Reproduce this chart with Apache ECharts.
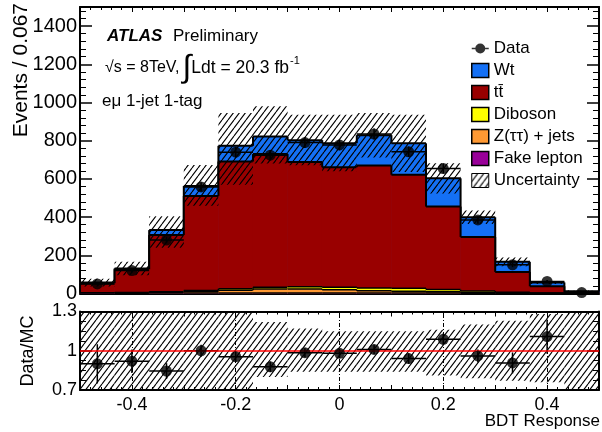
<!DOCTYPE html>
<html>
<head>
<meta charset="utf-8">
<script src="https://cdn.jsdelivr.net/npm/echarts@6/dist/echarts.min.js"></script>
<style>
  html, body { margin: 0; padding: 0; background: #fff; }
  #chart { width: 602px; height: 432px; }
</style>
</head>
<body>
<div id="chart"></div>
<script>
// bin edges of BDT response (15 bins of 0.067)
const edges = [-0.5, -0.4333, -0.3667, -0.3, -0.2333, -0.1667, -0.1, -0.0333, 0.0333, 0.1, 0.1667, 0.2333, 0.3, 0.3667, 0.4333, 0.5]
// stacked MC, bottom to top
const fake    = [2, 1, 2, 2, 3, 3, 3, 3, 2, 2, 2, 1, 1, 0, 0]
const zjets   = [1, 2, 4, 8, 14, 20, 20, 16, 12, 10, 7, 4, 2, 1, 0]
const diboson = [1, 2, 3, 6, 8, 10, 12, 14, 15, 15, 12, 8, 4, 2, 1]
const ttbar   = [50, 122, 297, 495, 666, 697, 654, 628, 641, 595, 434, 283, 106, 35, 7]
const wt      = [3, 4, 26, 52, 82, 92, 114, 126, 159, 164, 148, 103, 53, 20, 4]
// uncertainty band of the stack
const bandLo  = [37, 96, 240, 460, 570, 680, 672, 640, 712, 636, 524, 364, 143, 50, 10]
const bandHi  = [77, 166, 404, 673, 945, 980, 936, 936, 945, 936, 682, 434, 189, 66, 14]
// data
const data    = [50, 120, 280, 558, 740, 724, 790, 778, 835, 742, 654, 385, 150, 63, 5]
const dataErr = [7, 11, 17, 24, 27, 27, 28, 28, 29, 27, 26, 20, 12, 8, 2]
// ratio panel
const ratio    = [0.90, 0.92, 0.845, 1.0, 0.955, 0.877, 0.985, 0.98, 1.01, 0.94, 1.088, 0.96, 0.907, 1.108, null]
const ratioErr = [0.15, 0.09, 0.06, 0.045, 0.04, 0.04, 0.035, 0.035, 0.035, 0.04, 0.045, 0.05, 0.08, 0.13, 0]
const rBandLo  = [0.6, 0.6, 0.6, 0.6, 0.66, 0.8, 0.84, 0.84, 0.84, 0.84, 0.81, 0.79, 0.77, 0.76, 0.6]
const rBandHi  = [1.4, 1.4, 1.4, 1.4, 1.35, 1.22, 1.17, 1.15, 1.15, 1.15, 1.16, 1.2, 1.23, 1.28, 1.4]
const xTicks = [-0.4, -0.2, 0, 0.2, 0.4]

const FONT = 'Liberation Sans, Arial, Helvetica, sans-serif'
const colors = { wt: '#1470f5', tt: '#990000', db: '#ffff00', zj: '#ff9933', fk: '#990099' }
const TT = 't\u0074\u0304'
const ZJ = 'Z(\u03c4\u03c4) + jets'

// hatch pattern like ROOT 3004
function makeHatch() {
  const c = document.createElement('canvas')
  c.width = 6; c.height = 8
  const g = c.getContext('2d')
  g.strokeStyle = '#000'
  g.lineWidth = 1.1
  g.beginPath()
  g.moveTo(0, 8); g.lineTo(6, 0)
  g.moveTo(-6, 8); g.lineTo(0, 0)
  g.moveTo(6, 8); g.lineTo(12, 0)
  g.stroke()
  return c
}
const hatch = { image: makeHatch(), repeat: 'repeat' }

const bins = data.map((v, i) => i)
const centers = bins.map(i => (edges[i] + edges[i + 1]) / 2)

// THStack style: every level is the cumulative sum, drawn from 0, top level first
const levels = [
  ['Fake lepton', fake, colors.fk, 1.5],
  [ZJ, zjets, colors.zj, 1.5],
  ['Diboson', diboson, colors.db, 1.5],
  [TT, ttbar, colors.tt, 2],
  ['Wt', wt, colors.wt, 2]
]
let running = bins.map(() => 0)
const cumul = levels.map(([name, arr, color, lw]) => {
  running = running.map((s, i) => s + arr[i])
  return { name, color, lw, tops: running.slice() }
})

function stackItem(lw) {
  return function (params, api) {
    const x0 = api.value(0), x1 = api.value(1), top = api.value(2), prev = api.value(3)
    const a = api.coord([x0, top]), b = api.coord([x1, 0]), p = api.coord([x0, prev])
    const st = { stroke: '#000', lineWidth: lw }
    return {
      type: 'group', children: [
        { type: 'rect', shape: { x: a[0] - 0.3, y: a[1], width: b[0] - a[0] + 0.6, height: b[1] - a[1] }, style: { fill: api.visual('color') } },
        { type: 'line', shape: { x1: a[0], y1: a[1], x2: b[0], y2: a[1] }, style: st },
        { type: 'line', shape: { x1: a[0], y1: p[1], x2: a[0], y2: a[1] }, style: st }
      ]
    }
  }
}

const stackSeries = cumul.slice().reverse().map((lv, k) => ({
  name: lv.name, type: 'custom', xAxisIndex: 0, yAxisIndex: 0, z: 2 + k * 0.01,
  itemStyle: { color: lv.color }, silent: true,
  renderItem: stackItem(lv.lw),
  data: bins.map(i => [edges[i], edges[i + 1], lv.tops[i], i === 0 ? 0 : lv.tops[i - 1]])
}))

// rectangle per bin, clamped to the grid
function bandItem(params, api) {
  const cs = params.coordSys
  const p0 = api.coord([api.value(0), api.value(3)])
  const p1 = api.coord([api.value(1), api.value(2)])
  const y0 = Math.max(p0[1], cs.y), y1 = Math.min(p1[1], cs.y + cs.height)
  return {
    type: 'rect',
    shape: { x: p0[0], y: y0, width: p1[0] - p0[0], height: y1 - y0 },
    style: { fill: hatch, stroke: null }
  }
}

function errItem(params, api) {
  if (api.value(2) == null || isNaN(api.value(2))) return null
  const y = api.value(2), e = api.value(3)
  const xm = (api.value(0) + api.value(1)) / 2
  const a = api.coord([api.value(0), y]), b = api.coord([api.value(1), y])
  const c = api.coord([xm, y + e]), d = api.coord([xm, y - e])
  const st = { stroke: '#000', lineWidth: 1.5 }
  return {
    type: 'group', children: [
      { type: 'line', shape: { x1: a[0], y1: a[1], x2: b[0], y2: b[1] }, style: st },
      { type: 'line', shape: { x1: c[0], y1: c[1], x2: d[0], y2: d[1] }, style: st }
    ]
  }
}

const axisBase = {
  axisLine: { show: true, onZero: false, lineStyle: { color: '#000', width: 2 } },
  splitLine: { show: false },
  axisLabel: { show: false }
}
const xAxisDef = (grid, pos, labels) => ({
  ...axisBase, type: 'value', gridIndex: grid, position: pos,
  min: -0.5, max: 0.5, interval: 0.1,
  axisTick: { inside: true, length: 5, lineStyle: { color: '#000', width: 1 } },
  minorTick: { show: true, splitNumber: 5, length: 3, lineStyle: { color: '#000', width: 1 } },
  axisLabel: {
    show: labels, color: '#000', fontFamily: FONT, fontSize: 18, margin: 6,
    formatter: v => {
      const k = Math.round(v * 10)
      if (k % 2 !== 0 || Math.abs(k) === 5) return ''
      return k === 0 ? '0' : (k / 10).toString()
    }
  }
})
const yMain = pos => ({
  ...axisBase, type: 'value', gridIndex: 0, position: pos,
  min: 0, max: 1500, interval: 200,
  axisTick: { inside: true, length: 12, lineStyle: { color: '#000', width: 1.5 } },
  minorTick: { show: true, splitNumber: 5, length: 6, lineStyle: { color: '#000', width: 1 } },
  axisLabel: {
    show: pos === 'left', color: '#000', fontFamily: FONT, fontSize: 20, margin: 3,
    formatter: v => (v > 1400 ? '' : String(v))
  }
})
const yRatio = pos => ({
  ...axisBase, type: 'value', gridIndex: 1, position: pos,
  min: 0.7, max: 1.3, interval: 0.3,
  axisTick: { inside: true, length: 12, lineStyle: { color: '#000', width: 1.5 } },
  minorTick: { show: true, splitNumber: 4, length: 6, lineStyle: { color: '#000', width: 1 } },
  axisLabel: {
    show: pos === 'left', color: '#000', fontFamily: FONT, fontSize: 18, margin: 3,
    formatter: v => {
      const r = Math.round(v * 10) / 10
      return r === 1 ? '1' : r.toFixed(1)
    }
  }
})

const dataIcon = 'path://M8.5,0L8.51,0Z M8.5,14L8.51,14Z M0,6.2L17,6.2L17,7.8L0,7.8Z M3.5,7A5,5 0 1,1 13.5,7A5,5 0 1,1 3.5,7Z'

const option = {
  animation: false,
  backgroundColor: '#fff',
  grid: [
    { left: 80, right: 3, top: 7, height: 286.5 },
    { left: 80, right: 3, top: 311.5, height: 78.5 }
  ],
  xAxis: [xAxisDef(0, 'bottom', false), xAxisDef(0, 'top', false), xAxisDef(1, 'bottom', true), xAxisDef(1, 'top', false)],
  yAxis: [yMain('left'), yMain('right'), yRatio('left'), yRatio('right')],
  legend: {
    orient: 'vertical', left: 466, top: 35, itemWidth: 17, itemHeight: 14, itemGap: 5,
    selectedMode: false,
    textStyle: { fontFamily: FONT, fontSize: 17, color: '#000' },
    itemStyle: { borderColor: '#000', borderWidth: 1.5 },
    data: [
      { name: 'Data', icon: dataIcon, itemStyle: { color: '#000', borderWidth: 0 } },
      { name: 'Wt', icon: 'rect', itemStyle: { color: colors.wt } },
      { name: TT, icon: 'rect', itemStyle: { color: colors.tt } },
      { name: 'Diboson', icon: 'rect', itemStyle: { color: colors.db } },
      { name: ZJ, icon: 'rect', itemStyle: { color: colors.zj } },
      { name: 'Fake lepton', icon: 'rect', itemStyle: { color: colors.fk } },
      { name: 'Uncertainty', icon: 'rect', itemStyle: { color: hatch, borderWidth: 1 } }
    ]
  },
  graphic: [
    { type: 'text', x: 21, y: 3, rotation: Math.PI / 2,
      style: { text: 'Events / 0.067', font: '21px ' + FONT, fill: '#000', align: 'right', verticalAlign: 'middle' } },
    { type: 'text', x: 28, y: 351, rotation: Math.PI / 2,
      style: { text: 'Data/MC', font: '18px ' + FONT, fill: '#000', align: 'center', verticalAlign: 'middle' } },
    { type: 'text', x: 600, y: 421,
      style: { text: 'BDT Response', font: '17px ' + FONT, fill: '#000', align: 'right', verticalAlign: 'middle' } },
    { type: 'text', x: 107, y: 36,
      style: { text: 'ATLAS', font: 'italic bold 17px ' + FONT, fill: '#000', align: 'left', verticalAlign: 'middle' } },
    { type: 'text', x: 173, y: 36,
      style: { text: 'Preliminary', font: '17px ' + FONT, fill: '#000', align: 'left', verticalAlign: 'middle' } },
    { type: 'text', x: 105, y: 68,
      style: {
        text: '{a|\u221as = 8TeV,}{b|\u222b}{d|Ldt = 20.3 fb}{c|-1}',
        align: 'left', verticalAlign: 'middle',
        rich: {
          a: { fontFamily: FONT, fontSize: 16, fill: '#000' },
          b: { fontFamily: FONT, fontSize: 32, fill: '#000', padding: [0, 0, 0, 3] },
          d: { fontFamily: FONT, fontSize: 17.5, fill: '#000' },
          c: { fontFamily: FONT, fontSize: 11, fill: '#000', padding: [0, 0, 14, 1] }
        }
      } },
    { type: 'text', x: 102, y: 101,
      style: { text: 'e\u03bc 1-jet 1-tag', font: '17px ' + FONT, fill: '#000', align: 'left', verticalAlign: 'middle' } }
  ],
  series: [
    ...stackSeries,
    {
      name: 'Uncertainty', type: 'custom', xAxisIndex: 0, yAxisIndex: 0, z: 3,
      itemStyle: { color: hatch }, silent: true,
      renderItem: bandItem,
      data: bins.map(i => [edges[i], edges[i + 1], bandLo[i], bandHi[i]])
    },
    {
      name: 'dataErr', type: 'custom', xAxisIndex: 0, yAxisIndex: 0, z: 4, silent: true,
      renderItem: errItem,
      data: bins.map(i => [edges[i], edges[i + 1], data[i], dataErr[i]])
    },
    {
      name: 'Data', type: 'scatter', xAxisIndex: 0, yAxisIndex: 0, z: 5,
      symbolSize: 11, itemStyle: { color: '#000' }, silent: true,
      data: bins.map(i => [centers[i], data[i]])
    },
    // ratio panel
    {
      name: 'ratioBand', type: 'custom', xAxisIndex: 2, yAxisIndex: 2, z: 3, silent: true,
      renderItem: bandItem,
      data: bins.map(i => [edges[i], edges[i + 1], rBandLo[i], rBandHi[i]]),
      markLine: {
        symbol: 'none', silent: true, label: { show: false },
        data: [
          ...xTicks.map(v => ({ xAxis: v, lineStyle: { color: '#000', type: [4, 2, 1, 2], width: 1 } })),
          { yAxis: 1, lineStyle: { color: '#ff0000', type: 'solid', width: 1.5 } }
        ]
      }
    },
    {
      name: 'ratioErr', type: 'custom', xAxisIndex: 2, yAxisIndex: 2, z: 4, silent: true,
      renderItem: errItem,
      data: bins.map(i => [edges[i], edges[i + 1], ratio[i], ratioErr[i]])
    },
    {
      name: 'ratio', type: 'scatter', xAxisIndex: 2, yAxisIndex: 2, z: 5,
      symbolSize: 11, itemStyle: { color: '#000' }, silent: true,
      data: bins.filter(i => ratio[i] != null).map(i => [centers[i], ratio[i]])
    }
  ]
}

const chart = echarts.init(document.getElementById('chart'), null, { renderer: 'canvas' })
chart.setOption(option)
window.addEventListener('resize', () => chart.resize())
</script>
</body>
</html>
